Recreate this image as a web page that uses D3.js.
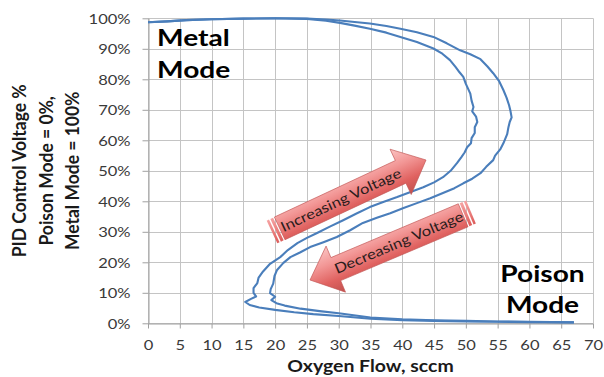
<!DOCTYPE html>
<html><head><meta charset="utf-8">
<script src="https://cdn.jsdelivr.net/npm/d3@7"></script>
<style>body{margin:0;background:#fff} svg{display:block}</style>
</head><body>
<svg id="c" width="604" height="377"></svg>
<script>
// ---------- DATA ----------
const xTickValues = [0,5,10,15,20,25,30,35,40,45,50,55,60,65,70];
const yTickValues = [0,10,20,30,40,50,60,70,80,90,100];
const xTitle = "Oxygen Flow, sccm";
const yTitleLines = ["PID Control Voltage %","Poison Mode = 0%,","Metal Mode = 100%"];
const metalLabel = ["Metal","Mode"];
const poisonLabel = ["Poison","Mode"];
const arrowLabels = ["Increasing Voltage","Decreasing Voltage"];

// [oxygen flow sccm, PID control voltage %]
const innerCurve = [
 [0,98.7],[3,99.0],[6,99.4],[10,99.7],[15,99.9],[20,100],[25,99.8],[28,99.2],[30.2,98.5],[32.5,97.6],
 [34.9,96.6],[37.5,95.3],[39.7,93.9],[42.3,92.2],[44.9,90.1],[46.3,88.4],[47.5,86.3],[48.4,84.0],[49.0,82.3],
 [49.6,80.8],[50.0,78.5],[50.7,75.3],[50.9,73.0],[51.2,70.9],[51.0,69.5],[51.6,67.8],[51.8,66.0],[51.4,64.3],
 [51.4,62.4],[50.9,60.7],[50.8,59.0],[50.2,57.7],[49.8,56.0],[49.3,54.5],[48.6,52.5],[47.6,50.0],[46.4,47.9],
 [45.0,46.2],[43.3,44.6],[41.2,43.0],[39.2,41.4],[37.0,39.8],[34.9,38.1],[32.8,36.0],[30.7,33.8],[28.6,31.7],
 [26.6,29.6],[25.0,28.0],[23.5,26.3],[22.0,24.0],[20.8,21.7],[19.2,19.5],[18.1,17.0],[17.4,15.0],[17.2,13.2],
 [16.6,11.5],[16.6,10.0],[17.0,8.8],[16.2,8.0],[15.3,7.0],[16.0,6.0],[17.5,5.2],[20,4.4],[23,3.6],[26,3.0],
 [30,2.4],[35,1.5],[40,1.0],[45,0.8],[50,0.6],[55,0.5],[60,0.4],[67,0.3]
];
const outerCurve = [
 [0,98.7],[3,99.0],[6,99.4],[10,99.7],[15,99.9],[20,100],[25,99.9],[28,99.6],[30.2,99.3],[32.5,98.8],
 [34.9,98.3],[37.5,97.5],[39.7,96.6],[42.3,95.4],[44.9,93.9],[47.0,91.8],[49.1,89.5],[50.7,88.2],[52.3,86.6],
 [53.4,84.2],[54.3,82.0],[55.2,79.5],[55.9,76.5],[56.4,74.0],[56.8,71.5],[57.0,69.8],[57.2,67.5],[56.9,66.0],
 [56.7,64.3],[56.5,62.0],[55.9,59.0],[55.4,57.0],[54.6,55.0],[54.3,53.5],[53.2,51.3],[52.3,49.2],[51.0,47.4],
 [49.6,45.9],[48.2,44.3],[46.4,42.7],[44.4,41.0],[42.3,39.4],[40.2,37.8],[38.1,36.1],[36.0,34.6],[33.8,32.9],
 [31.8,30.5],[29.7,28.3],[27.6,26.6],[25.5,25.0],[23.9,23.2],[22.4,21.7],[21.3,19.8],[20.3,17.5],[19.9,15.5],
 [19.7,13.0],[19.3,11.2],[19.2,9.9],[20.0,8.7],[19.4,7.6],[20.2,6.6],[21.5,5.8],[24,4.8],[27,4.0],[30,3.3],
 [35,1.9],[40,1.3],[45,1.0],[50,0.8],[55,0.6],[60,0.5],[67,0.3]
];

// ---------- LAYOUT ----------
const svg = d3.select("#c");
const SX = 1.18; // horizontal stretch of the reference text
const plot = {left:148, right:593, top:18.3, bottom:323.3};
const x = d3.scaleLinear().domain([0,70]).range([plot.left, plot.right]);
const y = d3.scaleLinear().domain([0,100]).range([plot.bottom, plot.top]);

svg.append("rect").attr("width",604).attr("height",377).attr("fill","#fff");

// grid
const grid = svg.append("g").attr("stroke","#c4c4c4").attr("stroke-width",1);
grid.selectAll("line.v").data(xTickValues).join("line")
  .attr("x1",d=>Math.round(x(d))+0.5).attr("x2",d=>Math.round(x(d))+0.5)
  .attr("y1",plot.top).attr("y2",plot.bottom);
grid.selectAll("line.h").data(yTickValues).join("line")
  .attr("y1",d=>Math.round(y(d))+0.5).attr("y2",d=>Math.round(y(d))+0.5)
  .attr("x1",plot.left).attr("x2",plot.right);

// axes
const yAxis = svg.append("g").attr("transform",`translate(${Math.round(plot.left)+0.5},0)`)
  .call(d3.axisLeft(y).tickValues(yTickValues).tickFormat(d=>d+"%").tickSize(6).tickSizeOuter(0));
const xAxis = svg.append("g").attr("transform",`translate(0,${Math.round(plot.bottom)+0.5})`)
  .call(d3.axisBottom(x).tickValues(xTickValues).tickSize(5).tickSizeOuter(0));
[yAxis,xAxis].forEach(a=>{
  a.select(".domain").attr("stroke","#a0a0a0");
  a.selectAll(".tick line").attr("stroke","#a0a0a0");
  a.selectAll(".tick text").attr("fill","#3a3a3a")
   .style("font-family","Lato").style("font-size","14px");
});
yAxis.selectAll(".tick text").attr("x",-18/SX).attr("dy","0.36em").attr("transform",`scale(${SX},1)`);
xAxis.selectAll(".tick text").attr("y",26.5).attr("dy",0).attr("transform",`scale(${SX},1)`);

// axis titles
svg.append("text").attr("transform",`translate(${(plot.left+plot.right)/2},372) scale(${SX},1)`)
  .attr("text-anchor","middle").style("font-family","Lato").style("font-weight","bold")
  .style("font-size","16.5px").attr("fill","#1a1a1a").text(xTitle);
const yMid = (plot.top+plot.bottom)/2;
yTitleLines.forEach((t,i)=>{
  svg.append("text").attr("transform",`translate(${26+i*26.5},${yMid}) rotate(-90) scale(1,1.12)`)
   .attr("text-anchor","middle").style("font-family","Lato").style("font-weight","bold")
   .style("font-size","17.5px").attr("fill","#1a1a1a").text(t);
});

// curves
const line = d3.line().x(d=>x(d[0])).y(d=>y(d[1]));
[innerCurve, outerCurve].forEach(c=>{
  svg.append("path").datum(c).attr("d",line).attr("fill","none")
   .attr("stroke","#4a7ebb").attr("stroke-width",2.1).attr("stroke-linejoin","round");
});

// mode labels
metalLabel.forEach((t,i)=>{
  svg.append("text").attr("transform",`translate(157,${46+i*32}) scale(1.25,1)`)
   .style("font-family","Lato").style("font-weight","bold").style("font-size","22.5px")
   .attr("fill","#000").text(t);
});
poisonLabel.forEach((t,i)=>{
  svg.append("text").attr("transform",`translate(542.5,${282+i*31}) scale(1.25,1)`)
   .attr("text-anchor","middle")
   .style("font-family","Lato").style("font-weight","bold").style("font-size","22.5px")
   .attr("fill","#000").text(t);
});

// arrows
const defs = svg.append("defs");
const grad = defs.append("linearGradient").attr("id","ag").attr("gradientUnits","userSpaceOnUse")
  .attr("x1",0).attr("x2",0).attr("y1",-25).attr("y2",25);
[[0,"#fbc4c3"],[0.35,"#f29695"],[0.7,"#e06260"],[1,"#c0504d"]].forEach(s=>
  grad.append("stop").attr("offset",s[0]).attr("stop-color",s[1]));

function drawArrow(tail, tip, dir, label){
  const dx = tip[0]-tail[0], dy = tip[1]-tail[1];
  const L = Math.hypot(dx,dy);
  let ang = Math.atan2(dy,dx)*180/Math.PI;
  if(dir<0) ang += 180;
  const cx=(tail[0]+tip[0])/2, cy=(tail[1]+tip[1])/2;
  const g = svg.append("g").attr("transform",`translate(${cx},${cy}) rotate(${ang})`);
  const s = g.append("g").attr("transform", dir<0 ? "scale(-1,1)" : null);
  const w=12.5, h=25, hl=28, t=-L/2, hb=L/2-hl;
  s.append("path").attr("d",`M${t+8.5},${-w}L${hb},${-w}L${hb},${-h}L${L/2},0L${hb},${h}L${hb},${w}L${t+8.5},${w}Z`)
   .attr("fill","url(#ag)").attr("stroke","#c25654").attr("stroke-width",0.6);
  s.append("rect").attr("x",t).attr("y",-w).attr("width",2.5).attr("height",2*w).attr("fill","url(#ag)");
  s.append("rect").attr("x",t+4).attr("y",-w).attr("width",3).attr("height",2*w).attr("fill","url(#ag)");
  g.append("text").attr("transform",`translate(${-dir*9},0) scale(${SX},1)`)
   .attr("text-anchor","middle").attr("dy","0.36em")
   .style("font-family","Lato").style("font-size","14px").attr("fill","#2a1c1c").text(label);
}
drawArrow([272,232],[426,160],1,arrowLabels[0]);
drawArrow([471,212],[310,280],-1,arrowLabels[1]);
</script>
</body></html>
